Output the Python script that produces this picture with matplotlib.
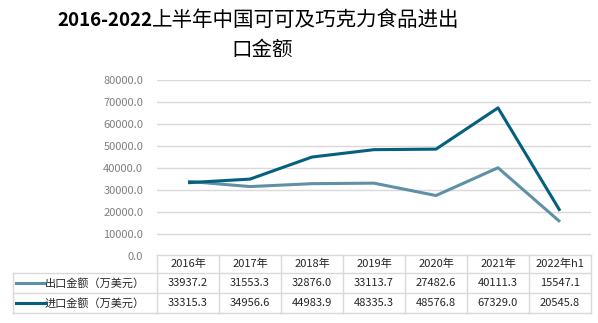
import numpy as np
import matplotlib.pyplot as plt
from matplotlib.lines import Line2D

plt.rcParams['font.family'] = ['Noto Sans CJK SC', 'DejaVu Sans']

years = ['2016年', '2017年', '2018年', '2019年', '2020年', '2021年', '2022年h1']
export_vals = [33937.2, 31553.3, 32876.0, 33113.7, 27482.6, 40111.3, 15547.1]
import_vals = [33315.3, 34956.6, 44983.9, 48335.3, 48576.8, 67329.0, 20545.8]
series_names = ['出口金额（万美元）', '进口金额（万美元）']
colors = ['#5e91a5', '#05607f']

W, H = 598, 323
fig = plt.figure(figsize=(W / 100, H / 100), dpi=100)

# plot area in pixel layout, converted to figure fractions
x0, x1 = 157, 591
ytop, ybot = 80, 256
ax = fig.add_axes([x0 / W, (H - ybot) / H, (x1 - x0) / W, (ybot - ytop) / H])
xs = np.arange(len(years))
ax.plot(xs, export_vals, color=colors[0], lw=2.2, solid_capstyle='butt', zorder=3)
ax.plot(xs, import_vals, color=colors[1], lw=2.2, solid_capstyle='butt', zorder=4)
ax.set_xlim(-0.5, len(years) - 0.5)
ax.set_ylim(0, 80000)
ax.set_yticks(np.arange(0, 80001, 10000))
ax.set_yticklabels([f'{v:.1f}' for v in np.arange(0, 80001, 10000)])
ax.tick_params(axis='y', length=0, pad=10, labelsize=8, labelcolor='#7f7f7f')
ax.set_xticks([])
ax.grid(axis='y', color='#d9d9d9', lw=1)
ax.set_axisbelow(True)
for s in ax.spines.values():
    s.set_visible(False)

# title: bold year range followed by regular-weight chinese text
t1 = fig.text(57 / W, 1 - 20 / H, '2016-2022', ha='left', va='center',
              fontsize=13.5, fontweight='bold', color='black')
ax.annotate('上半年中国可可及巧克力食品进出', xy=(1, 0.5), xycoords=t1,
            ha='left', va='center', fontsize=14.8, fontweight='medium', color='black',
            annotation_clip=False)
fig.text(262 / W, 1 - 50 / H, '口金额',
         ha='center', va='center', fontsize=14.8, fontweight='medium', color='black')

# data table under the plot, drawn in pixel coordinates
tab = fig.add_axes([0, 0, 1, 1], facecolor='none')
tab.set_xlim(0, W)
tab.set_ylim(H, 0)
tab.axis('off')
colw = (x1 - x0) / len(years)
rows = [255, 273, 293, 313]
lc = '#d9d9d9'
tab.plot([x0, x1], [rows[0], rows[0]], color=lc, lw=1)
for r in rows[1:]:
    tab.plot([13, x1], [r, r], color=lc, lw=1)
for i in range(len(years) + 1):
    tab.plot([x0 + i * colw] * 2, [rows[0], rows[-1]], color=lc, lw=1)
tab.plot([13, 13], [rows[1], rows[-1]], color=lc, lw=1)

for i, y in enumerate(years):
    tab.text(x0 + (i + 0.5) * colw, (rows[0] + rows[1]) / 2, y,
             ha='center', va='center', fontsize=8, color='#262626')
for k, vals in enumerate([export_vals, import_vals]):
    yc = (rows[k + 1] + rows[k + 2]) / 2
    tab.add_line(Line2D([16, 45], [yc, yc], color=colors[k], lw=2.2))
    tab.text(45, yc, series_names[k], ha='left', va='center', fontsize=8, color='#262626')
    for i, v in enumerate(vals):
        tab.text(x0 + (i + 0.5) * colw, yc, f'{v:.1f}',
                 ha='center', va='center', fontsize=8, color='#262626')

fig.savefig('out.png', dpi=100)
